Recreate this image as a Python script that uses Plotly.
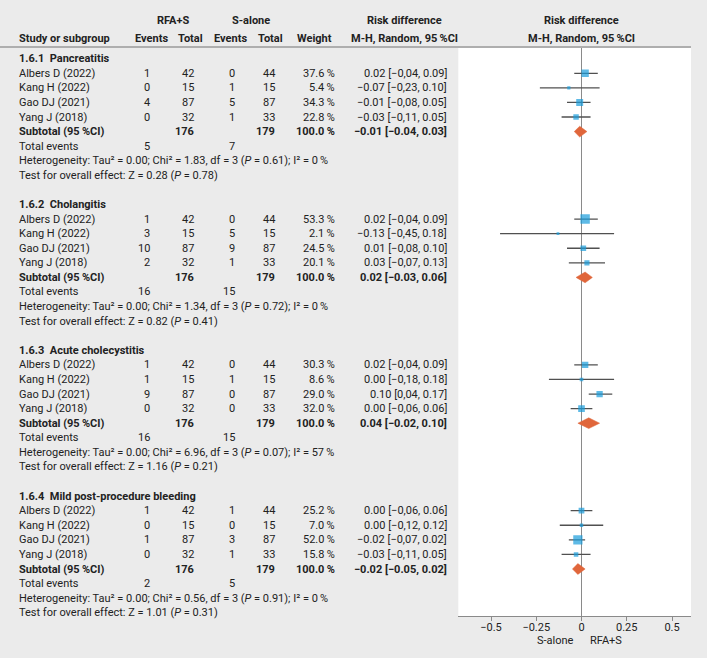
import plotly.graph_objects as go

# ---------------- data ----------------
group_titles = ["1.6.1  Pancreatitis", "1.6.2  Cholangitis",
                "1.6.3  Acute cholecystitis", "1.6.4  Mild post-procedure bleeding"]
studies = ["Albers D (2022)", "Kang H (2022)", "Gao DJ (2021)", "Yang J (2018)"]
rfa_total = [42, 15, 87, 32]
s_total = [44, 15, 87, 33]
rfa_events = [[1, 0, 4, 0], [1, 3, 10, 2], [1, 1, 9, 0], [1, 0, 1, 0]]
s_events = [[0, 1, 5, 1], [0, 5, 9, 1], [0, 1, 0, 0], [1, 0, 3, 1]]
weights = [[37.6, 5.4, 34.3, 22.8], [53.3, 2.1, 24.5, 20.1],
           [30.3, 8.6, 29.0, 32.0], [25.2, 7.0, 52.0, 15.8]]
rd = [[0.02, -0.07, -0.01, -0.03], [0.02, -0.13, 0.01, 0.03],
      [0.02, 0.00, 0.10, 0.00], [0.00, 0.00, -0.02, -0.03]]
rd_lo = [[-0.04, -0.23, -0.08, -0.11], [-0.04, -0.45, -0.08, -0.07],
         [-0.04, -0.18, 0.04, -0.06], [-0.06, -0.12, -0.07, -0.11]]
rd_hi = [[0.09, 0.10, 0.05, 0.05], [0.09, 0.18, 0.10, 0.13],
         [0.09, 0.18, 0.17, 0.06], [0.06, 0.12, 0.02, 0.05]]
sub_rd = [-0.01, 0.02, 0.04, -0.02]
sub_lo = [-0.04, -0.03, -0.02, -0.05]
sub_hi = [0.03, 0.06, 0.10, 0.02]
sub_rfa_total = [176, 176, 176, 176]
sub_s_total = [179, 179, 179, 179]
tot_ev_rfa = [5, 16, 16, 2]
tot_ev_s = [7, 15, 15, 5]
het_tau = ["0.00", "0.00", "0.00", "0.00"]
het_chi = ["1.83", "1.34", "6.96", "0.56"]
het_df = ["3", "3", "3", "3"]
het_p = ["0.61", "0.72", "0.07", "0.91"]
het_i2 = ["0", "0", "57", "0"]
test_z = ["0.28", "0.82", "1.16", "1.01"]
test_p = ["0.78", "0.41", "0.21", "0.31"]
tick_vals = [-0.5, -0.25, 0, 0.25, 0.5]
tick_text = ["−0.5", "−0.25", "0", "0.25", "0.5"]

# ---------------- layout helpers ----------------
W, H = 707, 658
FONT = "Roboto"
FS = 11
TXT = "#222222"
BLUE = "#1a9cdb"
ORANGE = "#e0663b"
ROWS_PER_GROUP = 10
TS = "\u2009"


def px(xp):
    return xp / W


def py(yp):
    return (H - yp) / H


def num(v):
    return f"{v:.2f}".replace("-", "−")


fig = go.Figure()
ann = []


def add_text(x, y, text, anchor="left", bold=False, yref="y", size=FS):
    if bold:
        text = f"<b>{text}</b>"
    ann.append(dict(x=px(x), y=y, xref="paper", yref=yref, text=text,
                    xanchor=anchor, yanchor="middle", showarrow=False,
                    font=dict(family=FONT, size=size, color=TXT)))


# column positions (pixels)
X_STUDY = 16.7
X_RFA_EV = 151.5
X_RFA_TOT = 195.5
X_S_EV = 237
X_S_TOT = 276.5
X_WEIGHT = 336.5
X_RD = 449

# headers
add_text(173, py(20.7), "RFA+S", "center", True, "paper")
add_text(251, py(20.7), "S-alone", "center", True, "paper")
add_text(404, py(20.7), "Risk difference", "center", True, "paper")
add_text(581.5, py(20.7), "Risk difference", "center", True, "paper")
add_text(X_STUDY, py(38), "Study or subgroup", "left", True, "paper")
add_text(151, py(38), "Events", "center", True, "paper")
add_text(190, py(38), "Total", "center", True, "paper")
add_text(230, py(38), "Events", "center", True, "paper")
add_text(270, py(38), "Total", "center", True, "paper")
add_text(314, py(38), "Weight", "center", True, "paper")
add_text(404, py(38), f"M-H, Random, 95{TS}%CI", "center", True, "paper")
add_text(581.5, py(38), f"M-H, Random, 95{TS}%CI", "center", True, "paper")

for g in range(4):
    base = g * ROWS_PER_GROUP
    add_text(X_STUDY, base, group_titles[g], "left", True)
    ci_x, ci_y, mx, my, ms = [], [], [], [], []
    for i in range(4):
        r = base + 1 + i
        add_text(X_STUDY, r, studies[i])
        add_text(X_RFA_EV, r, str(rfa_events[g][i]), "right")
        add_text(X_RFA_TOT, r, str(rfa_total[i]), "right")
        add_text(X_S_EV, r, str(s_events[g][i]), "right")
        add_text(X_S_TOT, r, str(s_total[i]), "right")
        add_text(X_WEIGHT, r, f"{weights[g][i]:.1f}{TS}%", "right")
        lab = f"{num(rd[g][i])} [{num(rd_lo[g][i]).replace('.', ',')}, {num(rd_hi[g][i])}]"
        add_text(X_RD, r, lab, "right")
        ci_x += [rd_lo[g][i], rd_hi[g][i], None]
        ci_y += [r, r, None]
        mx.append(rd[g][i])
        my.append(r)
        ms.append(2.5 + 0.13 * weights[g][i])
    fig.add_trace(go.Scatter(x=ci_x, y=ci_y, mode="lines",
                             line=dict(color="#505050", width=1.3),
                             hoverinfo="skip", showlegend=False))
    fig.add_trace(go.Scatter(x=mx, y=my, mode="markers",
                             marker=dict(symbol="square", size=ms, color=BLUE,
                                         line=dict(width=0)),
                             showlegend=False))
    rs = base + 5
    add_text(X_STUDY, rs, f"Subtotal (95{TS}%CI)", "left", True)
    add_text(X_RFA_TOT, rs, str(sub_rfa_total[g]), "right", True)
    add_text(X_S_TOT, rs, str(sub_s_total[g]), "right", True)
    add_text(X_WEIGHT, rs, f"100.0{TS}%", "right", True)
    add_text(X_RD, rs, f"{num(sub_rd[g])} [{num(sub_lo[g])}, {num(sub_hi[g])}]", "right", True)
    hh = 0.37
    fig.add_trace(go.Scatter(x=[sub_lo[g], sub_rd[g], sub_hi[g], sub_rd[g], sub_lo[g]],
                             y=[rs, rs - hh, rs, rs + hh, rs],
                             mode="lines", fill="toself", fillcolor=ORANGE,
                             line=dict(color=ORANGE, width=0.5),
                             hoverinfo="skip", showlegend=False))
    add_text(X_STUDY, base + 6, "Total events")
    add_text(X_RFA_EV, base + 6, str(tot_ev_rfa[g]), "right")
    add_text(X_S_EV, base + 6, str(tot_ev_s[g]), "right")
    add_text(X_STUDY, base + 7,
             f"Heterogeneity: Tau² = {het_tau[g]}; Chi² = {het_chi[g]}, df = {het_df[g]} "
             f"(<i>P</i> = {het_p[g]}); I² = {het_i2[g]}{TS}%")
    add_text(X_STUDY, base + 8,
             f"Test for overall effect: Z = {test_z[g]} (<i>P</i> = {test_p[g]})")

# bottom direction labels
ann.append(dict(x=-0.03, y=py(640), xref="x", yref="paper", text="S-alone",
                xanchor="right", yanchor="middle", showarrow=False,
                font=dict(family=FONT, size=FS, color=TXT)))
ann.append(dict(x=0.035, y=py(640), xref="x", yref="paper", text="RFA+S",
                xanchor="left", yanchor="middle", showarrow=False,
                font=dict(family=FONT, size=FS, color=TXT)))

# header separator line
shapes = [dict(type="line", xref="paper", yref="paper", x0=0.0, x1=px(691),
               y0=py(47), y1=py(47), line=dict(color="#9a9a9a", width=1.5))]

row0_px = 58.7
row_h = 14.58
y_top = (48 - row0_px) / row_h
y_bot = (616 - row0_px) / row_h
x_left = (458.3 - 581.5) / 181.0
x_right = (691 - 581.5) / 181.0

fig.update_layout(
    width=W, height=H,
    margin=dict(l=0, r=0, t=0, b=0),
    paper_bgcolor="#ebebeb",
    plot_bgcolor="white",
    annotations=ann,
    shapes=shapes,
    xaxis=dict(domain=[px(458.3), px(691)], range=[x_left, x_right],
               tickvals=tick_vals, ticktext=tick_text,
               showgrid=False, zeroline=True, zerolinecolor="#8a8a8a", zerolinewidth=1.2,
               showline=True, linecolor="#8a8a8a", linewidth=1.2,
               ticks="outside", ticklen=4, tickcolor="#8a8a8a", tickwidth=1.2,
               ticklabelstandoff=-3,
               tickfont=dict(family=FONT, size=FS, color=TXT), fixedrange=True),
    yaxis=dict(domain=[py(616), py(48)], range=[y_bot, y_top],
               showgrid=False, zeroline=False, showticklabels=False,
               showline=False, ticks="", fixedrange=True),
    showlegend=False,
)

fig.write_html("out.html",
               config={"displayModeBar": False},
               post_script="document.body.style.margin='0';"
                           "document.body.style.overflow='hidden';"
                           "document.body.style.background='#ebebeb';")
